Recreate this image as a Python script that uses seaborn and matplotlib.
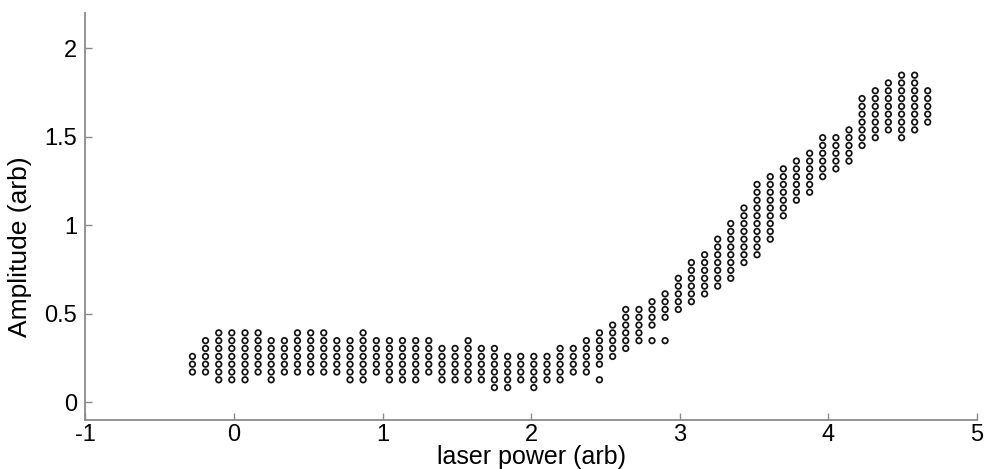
import matplotlib
matplotlib.use('Agg')
import matplotlib.pyplot as plt
import seaborn as sns
import pandas as pd

# ---- data ----
laser_power = [-0.280, -0.192, -0.103, -0.015, 0.074, 0.162, 0.250, 0.339, 0.427, 0.516,
               0.604, 0.692, 0.781, 0.869, 0.958, 1.046, 1.134, 1.223, 1.311, 1.400,
               1.488, 1.576, 1.665, 1.753, 1.842, 1.930, 2.018, 2.107, 2.195, 2.284,
               2.372, 2.460, 2.549, 2.637, 2.726, 2.814, 2.902, 2.991, 3.079, 3.168,
               3.256, 3.344, 3.433, 3.521, 3.610, 3.698, 3.786, 3.875, 3.963, 4.052,
               4.140, 4.228, 4.317, 4.405, 4.494, 4.582, 4.670]

amplitude_levels = [0.083, 0.127, 0.171, 0.215, 0.259, 0.304, 0.348, 0.392, 0.436, 0.480,
                    0.524, 0.568, 0.612, 0.656, 0.700, 0.745, 0.789, 0.833, 0.877, 0.921,
                    0.965, 1.009, 1.053, 1.097, 1.141, 1.186, 1.230, 1.274, 1.318, 1.362,
                    1.406, 1.450, 1.494, 1.538, 1.582, 1.627, 1.671, 1.715, 1.759, 1.803,
                    1.847]

# which amplitude levels are present in each laser-power column
column_rows = [
    [2, 3, 4],
    [2, 3, 4, 5, 6],
    [1, 2, 3, 4, 5, 6, 7],
    [1, 2, 3, 4, 5, 6, 7],
    [1, 2, 3, 4, 5, 6, 7],
    [2, 3, 4, 5, 6, 7],
    [1, 2, 3, 4, 5, 6],
    [2, 3, 4, 5, 6],
    [2, 3, 4, 5, 6, 7],
    [2, 3, 4, 5, 6, 7],
    [2, 3, 4, 5, 6, 7],
    [2, 3, 4, 5, 6],
    [1, 2, 3, 4, 5, 6],
    [1, 2, 3, 4, 5, 6, 7],
    [2, 3, 4, 5, 6],
    [1, 2, 3, 4, 5, 6],
    [1, 2, 3, 4, 5, 6],
    [1, 2, 3, 4, 5, 6],
    [2, 3, 4, 5, 6],
    [1, 2, 3, 4, 5],
    [1, 2, 3, 4, 5],
    [1, 2, 3, 4, 5, 6],
    [1, 2, 3, 4, 5],
    [0, 1, 2, 3, 4, 5],
    [0, 1, 2, 3, 4],
    [1, 2, 3, 4],
    [0, 1, 2, 3, 4],
    [1, 2, 3, 4],
    [1, 2, 3, 4, 5],
    [2, 3, 4, 5],
    [2, 3, 4, 5, 6],
    [1, 3, 4, 5, 6, 7],
    [4, 5, 6, 7, 8],
    [5, 6, 7, 8, 9, 10],
    [6, 7, 8, 9, 10],
    [6, 8, 9, 10, 11],
    [6, 9, 10, 11, 12],
    [10, 11, 12, 13, 14],
    [11, 12, 13, 14, 15, 16],
    [12, 13, 14, 15, 16, 17],
    [13, 14, 15, 16, 17, 18, 19],
    [14, 15, 16, 17, 18, 19, 20, 21],
    [16, 17, 18, 19, 20, 21, 22, 23],
    [17, 18, 19, 20, 21, 22, 23, 24, 25, 26],
    [19, 20, 21, 22, 23, 24, 25, 26, 27],
    [22, 23, 24, 25, 26, 27, 28],
    [24, 25, 26, 27, 28, 29],
    [25, 26, 27, 28, 29, 30],
    [27, 28, 29, 30, 31, 32],
    [28, 29, 30, 31, 32],
    [29, 30, 31, 32, 33],
    [31, 32, 33, 34, 35, 36, 37],
    [32, 33, 34, 35, 36, 37, 38],
    [33, 34, 35, 36, 37, 38, 39],
    [32, 33, 34, 35, 36, 37, 38, 39, 40],
    [33, 34, 35, 36, 37, 38, 39, 40],
    [34, 35, 36, 37, 38],
]

x_ticks = [-1, 0, 1, 2, 3, 4, 5]
x_tick_labels = ['-1', '0', '1', '2', '3', '4', '5']
y_ticks = [0, 0.5, 1, 1.5, 2]
y_tick_labels = ['0', '0.5', '1', '1.5', '2']
x_label = 'laser power (arb)'
y_label = 'Amplitude (arb)'

# ---- build table ----
records = []
for xv, rows in zip(laser_power, column_rows):
    for r in rows:
        records.append((xv, amplitude_levels[r]))
df = pd.DataFrame(records, columns=[x_label, y_label])

# ---- style ----
sns.set_style('white')
plt.rcParams['font.family'] = ['Liberation Sans', 'DejaVu Sans']

spine_color = '#8a8a8a'
mark_color = '#111111'

fig = plt.figure(figsize=(9.85, 4.69), dpi=100)
ax = fig.add_axes([0.0868, 0.1045, 0.9048, 0.8685])

sns.scatterplot(data=df, x=x_label, y=y_label, ax=ax, marker='o', s=16,
                color=mark_color, linewidth=1.25, legend=False)
coll = ax.collections[0]
coll.set_facecolor('none')
coll.set_edgecolor(mark_color)
coll.set_linewidth(1.25)

ax.set_xlim(-1, 5)
ax.set_ylim(-0.1, 2.2)
ax.set_xticks(x_ticks)
ax.set_xticklabels(x_tick_labels)
ax.set_yticks(y_ticks)
ax.set_yticklabels(y_tick_labels)

for side in ['top', 'right']:
    ax.spines[side].set_visible(False)
for side in ['left', 'bottom']:
    ax.spines[side].set_color(spine_color)
    ax.spines[side].set_linewidth(1.3)

ax.tick_params(axis='both', which='major', bottom=True, left=True,
               top=False, right=False, direction='in', length=5, width=1.0,
               color=spine_color, labelcolor='black', labelsize=17)
ax.tick_params(axis='x', pad=3)
ax.tick_params(axis='y', pad=6)

ax.set_xlabel(x_label, fontsize=18, labelpad=-1, color='black')
ax.set_ylabel(y_label, fontsize=19, color='black')
ax.yaxis.set_label_coords(-0.060, 0.425)

fig.savefig('out.png', dpi=100, facecolor='white')
